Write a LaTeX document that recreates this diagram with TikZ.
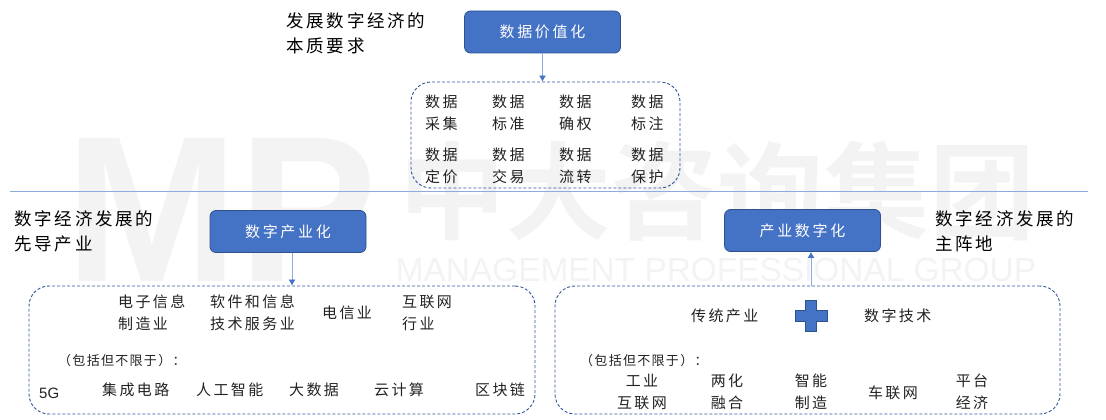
\documentclass[tikz,border=0pt]{standalone}
\usepackage{fontspec}
\setmainfont{Noto Sans CJK SC}
\newfontfamily\itemf{Noto Sans CJK SC}[LetterSpace=16]
\newfontfamily\notef{Noto Sans CJK SC}[LetterSpace=16]
\newfontfamily\hdrf{Noto Sans CJK SC}[LetterSpace=18]
\newfontfamily\parf{Noto Sans CJK SC}[LetterSpace=10]
\newfontfamily\wmcjk{Noto Sans CJK SC Bold}
\newfontfamily\wmlat{Liberation Sans}
\newfontfamily\latn{Liberation Sans}
\usetikzlibrary{arrows.meta}
\definecolor{hdr}{HTML}{4472C4}
\definecolor{hdredge}{HTML}{2F528F}
\definecolor{lnk}{HTML}{8FAADC}
\definecolor{dash}{HTML}{2F5597}
\definecolor{wm}{HTML}{F3F3F3}
\definecolor{ink}{HTML}{222222}
\tikzset{x=1pt,y=-1pt,
 hdrbox/.style={draw=hdredge,fill=hdr,rounded corners=6pt,line width=.8pt,text=white,font=\hdrf\fontsize{15}{16}\selectfont,inner sep=0pt,minimum width=156pt,minimum height=42pt},
 groupbox/.style={draw=dash,densely dashed,rounded corners=20pt,line width=.9pt,inner sep=0pt},
 item/.style={text=ink,font=\itemf\fontsize{15}{22}\selectfont,align=left,inner sep=0pt},
 paren/.style={text=ink,font=\parf\fontsize{13}{14}\selectfont,inner sep=0pt,anchor=west},
 headnote/.style={text=black,font=\notef\fontsize{17.5}{25}\selectfont,align=left,inner sep=0pt,anchor=west},
 link/.style={draw=lnk,line width=.8pt,-{Latex[length=6pt,width=7pt,color=hdr]}},
 wmark/.style={text=wm,inner sep=0pt,anchor=center},
}
\begin{document}
\begin{tikzpicture}
\useasboundingbox (0,0) rectangle (1106,420);
% watermark
\node[wmark,font=\wmcjk\fontsize{106}{106}\selectfont] (wmc) at (717,191) {中大咨询集团};
\node[wmark,font=\wmlat\fontsize{33.4}{34}\selectfont] (wml) at (716,270) {MANAGEMENT PROFESSIONAL GROUP};
\node[wmark,font=\wmlat\bfseries\fontsize{208}{208}\selectfont] (wmm) at (221,210) {MP};
% divider
\coordinate (dl) at (10,191.5); \coordinate (dr) at (1088,191.5);
\draw[draw=lnk,line width=.7pt] (dl) -- (dr);
% boxes
\node[hdrbox] (a) at (542.5,32) {数据价值化};
\node[hdrbox] (b) at (288,231.5) {数字产业化};
\node[hdrbox] (c) at (802.5,230.5) {产业数字化};
\node[groupbox,minimum width=269pt,minimum height=106pt] (ga) at (545.5,135) {};
\node[groupbox,minimum width=506pt,minimum height=128pt] (gb) at (282,350) {};
\node[groupbox,minimum width=505pt,minimum height=128pt] (gc) at (807.5,350) {};
\draw[link] (a) -- (a |- ga.north);
\draw[link] ([xshift=4pt]b.south) -- ([xshift=4pt]b.south |- gb.north);
\draw[link] ([xshift=8.5pt]c.south |- gc.north) -- ([xshift=8.5pt]c.south);
% notes
\node[headnote] (n1) at (286,33) {发展数字经济的\\本质要求};
\node[headnote] (n2) at (14,231) {数字经济发展的\\先导产业};
\node[headnote] (n3) at (935,231) {数字经济发展的\\主阵地};
% top grid
\node[item,anchor=west] (d1) at (425,112.5) {数据\\采集};
\node[item,anchor=west] (d2) at (492,112.5) {数据\\标准};
\node[item,anchor=west] (d3) at (559,112.5) {数据\\确权};
\node[item,anchor=west] (d4) at (631,112.5) {数据\\标注};
\node[item,anchor=west] (d5) at (425,165.5) {数据\\定价};
\node[item,anchor=west] (d6) at (492,165.5) {数据\\交易};
\node[item,anchor=west] (d7) at (559,165.5) {数据\\流转};
\node[item,anchor=west] (d8) at (631,165.5) {数据\\保护};
% left group
\node[item,anchor=west] (e1) at (118,313) {电子信息\\制造业};
\node[item,anchor=west] (e2) at (210,313) {软件和信息\\技术服务业};
\node[item,anchor=west] (e3) at (322,313) {电信业};
\node[item,anchor=west] (e4) at (402,313) {互联网\\行业};
\node[paren] (e5) at (58,361) {（包括但不限于）：};
\node[item,anchor=west,font=\latn\fontsize{15}{16}\selectfont] (e6) at (39,393) {5G};
\node[item,anchor=west] (e7) at (102,390) {集成电路};
\node[item,anchor=west] (e8) at (196,390) {人工智能};
\node[item,anchor=west] (e9) at (289,390) {大数据};
\node[item,anchor=west] (e10) at (374,390) {云计算};
\node[item,anchor=west] (e11) at (475,390) {区块链};
% right group
\node[item,anchor=west] (f1) at (691,316) {传统产业};
\node[item,anchor=west] (f2) at (864,316) {数字技术};
\coordinate (plus) at (811,316);
\draw[draw=hdredge,fill=hdr,line width=.8pt]
  ([shift={(-5.5,-15.5)}]plus) -- ([shift={(5.5,-15.5)}]plus) -- ([shift={(5.5,-5.5)}]plus)
  -- ([shift={(16,-5.5)}]plus) -- ([shift={(16,5.5)}]plus) -- ([shift={(5.5,5.5)}]plus)
  -- ([shift={(5.5,15.5)}]plus) -- ([shift={(-5.5,15.5)}]plus) -- ([shift={(-5.5,5.5)}]plus)
  -- ([shift={(-16,5.5)}]plus) -- ([shift={(-16,-5.5)}]plus) -- ([shift={(-5.5,-5.5)}]plus) -- cycle;
\node[paren] (f3) at (580,361) {（包括但不限于）：};
\node[item,align=center] (f4) at (642,392) {工业\\互联网};
\node[item,align=center] (f5) at (727,392) {两化\\融合};
\node[item,align=center] (f6) at (811,392) {智能\\制造};
\node[item,align=center] (f7) at (893,393) {车联网};
\node[item,align=center] (f8) at (972,392) {平台\\经济};
\end{tikzpicture}
\end{document}
